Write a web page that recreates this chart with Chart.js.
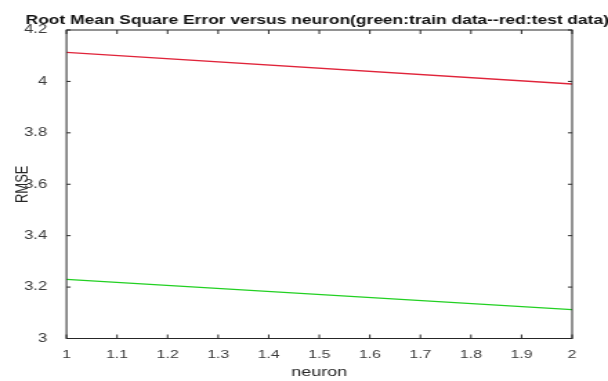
<!DOCTYPE html>
<html>
<head>
<meta charset="utf-8">
<script src="https://cdn.jsdelivr.net/npm/chart.js@4"></script>
<style>
  html, body { margin: 0; padding: 0; background: #fff; overflow: hidden; }
  #c { display: block; }
</style>
</head>
<body>
<!-- drawing surface is narrower than the page and stretched to full width -->
<canvas id="c" width="440" height="381" style="width:608px;height:381px"></canvas>
<script>
// RMSE per neuron count
const neurons = [1, 2];
const trainRmse = [3.230, 3.112];
const testRmse = [4.113, 3.990];

// axis ticks
const xTickValues = [1, 1.1, 1.2, 1.3, 1.4, 1.5, 1.6, 1.7, 1.8, 1.9, 2];
const yTickValues = [3, 3.2, 3.4, 3.6, 3.8, 4, 4.2];

const titleText = 'Root Mean Square Error versus neuron(green:train data--red:test data)';
const xLabel = 'neuron';
const yLabel = 'RMSE';

const FONT = '"Liberation Sans", Arial, sans-serif';
const AXIS_COLOR = '#262626';

const toPoints = (xs, ys) => xs.map((x, i) => ({ x: x, y: ys[i] }));

// boxed axes with inward ticks on all four sides, plus the title
const boxAxes = {
  id: 'boxAxes',
  afterDraw(chart) {
    const { ctx, chartArea: a, scales } = chart;
    const xs = scales.x, ys = scales.y;
    ctx.save();
    ctx.strokeStyle = AXIS_COLOR;
    ctx.lineWidth = 1;
    ctx.strokeRect(a.left, a.top, a.right - a.left, a.bottom - a.top);
    ctx.beginPath();
    const xTick = 4, yTick = 3;
    xTickValues.forEach(v => {
      const px = xs.getPixelForValue(v);
      ctx.moveTo(px, a.bottom); ctx.lineTo(px, a.bottom - xTick);
      ctx.moveTo(px, a.top); ctx.lineTo(px, a.top + xTick);
    });
    yTickValues.forEach(v => {
      const py = ys.getPixelForValue(v);
      ctx.moveTo(a.left, py); ctx.lineTo(a.left + yTick, py);
      ctx.moveTo(a.right, py); ctx.lineTo(a.right - yTick, py);
    });
    ctx.stroke();

    // title runs wide, past the right edge of the figure
    ctx.fillStyle = '#111';
    ctx.font = 'bold 12.5px ' + FONT;
    ctx.textAlign = 'left';
    ctx.textBaseline = 'alphabetic';
    const titleWidth = 422;
    const sx = titleWidth / ctx.measureText(titleText).width;
    ctx.translate(18.6, 24);
    ctx.scale(sx, 1);
    ctx.fillText(titleText, 0, 0);
    ctx.restore();
  }
};

new Chart(document.getElementById('c'), {
  type: 'line',
  data: {
    datasets: [
      {
        label: 'test data',
        data: toPoints(neurons, testRmse),
        borderColor: '#e0243a',
        borderWidth: 1.3,
        pointRadius: 0,
        tension: 0,
        fill: false
      },
      {
        label: 'train data',
        data: toPoints(neurons, trainRmse),
        borderColor: '#22d022',
        borderWidth: 1.3,
        pointRadius: 0,
        tension: 0,
        fill: false
      }
    ]
  },
  options: {
    responsive: false,
    animation: false,
    devicePixelRatio: 1,
    layout: { padding: { top: 30, right: 26, left: 0, bottom: 0 } },
    plugins: {
      legend: { display: false },
      title: { display: false },
      tooltip: { enabled: false }
    },
    scales: {
      x: {
        type: 'linear',
        min: 1,
        max: 2,
        afterBuildTicks: s => { s.ticks = xTickValues.map(v => ({ value: v })); },
        afterFit: s => { s.height = 42.5; },
        grid: { display: false },
        border: { display: false },
        ticks: {
          autoSkip: false,
          maxRotation: 0,
          padding: 1,
          color: '#3a3a3a',
          font: { family: FONT, size: 11.5 },
          callback: v => String(v)
        },
        title: {
          display: true,
          text: xLabel,
          color: AXIS_COLOR,
          font: { family: FONT, size: 13 },
          padding: { top: 0, bottom: 0.5 }
        }
      },
      y: {
        type: 'linear',
        min: 3,
        max: 4.2,
        afterBuildTicks: s => { s.ticks = yTickValues.map(v => ({ value: v })); },
        afterFit: s => { s.width = 48.1; },
        grid: { display: false },
        border: { display: false },
        ticks: {
          padding: 6,
          color: '#3a3a3a',
          font: { family: FONT, size: 12 },
          callback: v => String(v)
        },
        title: {
          display: true,
          text: yLabel,
          color: AXIS_COLOR,
          font: { family: FONT, size: 13 },
          padding: { top: 8.5, bottom: 0 }
        }
      }
    }
  },
  plugins: [boxAxes]
});
</script>
</body>
</html>
